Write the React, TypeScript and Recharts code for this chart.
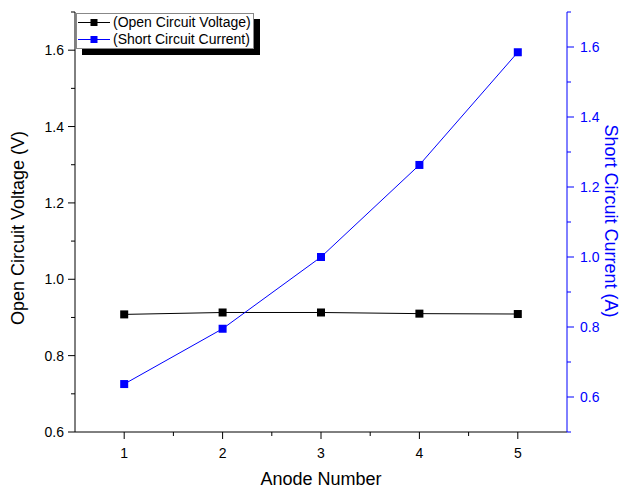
import { LineChart, Line, XAxis, YAxis, Legend, Label } from "recharts";

const anodes = [1, 2, 3, 4, 5];
const voltage = [0.908, 0.913, 0.913, 0.91, 0.909];
const current = [0.637, 0.795, 1.0, 1.263, 1.585];

const xTicks = [1, 1.5, 2, 2.5, 3, 3.5, 4, 4.5, 5];
const voltageTicks = [0.6, 0.7, 0.8, 0.9, 1.0, 1.1, 1.2, 1.3, 1.4, 1.5, 1.6, 1.7];
const currentTicks = [0.5, 0.6, 0.7, 0.8, 0.9, 1.0, 1.1, 1.2, 1.3, 1.4, 1.5, 1.6, 1.7];

const data = anodes.map((a, i) => ({
  anode: a,
  voltage: voltage[i],
  current: current[i],
}));

const FONT = "'Liberation Sans', Arial, sans-serif";
const BLUE = "#0000ff";

const isEvenTenth = (v: number) => Math.round(v * 10) % 2 === 0;

const BottomTick = (props: any) => {
  const { x, y, payload } = props;
  const major = Number.isInteger(payload.value);
  return (
    <g>
      <line x1={x} y1={y} x2={x} y2={y + (major ? 7 : 4)} stroke="#000" />
      {major && (
        <text x={x} y={y + 26} textAnchor="middle" fontSize={14} fontFamily={FONT} fill="#000">
          {payload.value}
        </text>
      )}
    </g>
  );
};

const TopTick = (props: any) => {
  const { x, y, payload } = props;
  const major = Number.isInteger(payload.value);
  return <line x1={x} y1={y} x2={x} y2={y + (major ? 7 : 4)} stroke="#000" />;
};

const LeftTick = (props: any) => {
  const { x, y, payload } = props;
  const major = isEvenTenth(payload.value);
  return (
    <g>
      <line x1={x - (major ? 7 : 4)} y1={y} x2={x} y2={y} stroke="#000" />
      {major && (
        <text x={x - 11} y={y + 5} textAnchor="end" fontSize={14} fontFamily={FONT} fill="#000">
          {payload.value.toFixed(1)}
        </text>
      )}
    </g>
  );
};

const RightTick = (props: any) => {
  const { x, y, payload } = props;
  const major = isEvenTenth(payload.value);
  return (
    <g>
      <line x1={x} y1={y} x2={x + (major ? 7 : 4)} y2={y} stroke={BLUE} />
      {major && (
        <text x={x + 13} y={y + 5} textAnchor="start" fontSize={14} fontFamily={FONT} fill={BLUE}>
          {payload.value.toFixed(1)}
        </text>
      )}
    </g>
  );
};

const squareDot = (color: string) => (props: any) => {
  const { cx, cy, index } = props;
  return <rect key={index} x={cx - 4} y={cy - 4} width={8} height={8} fill={color} />;
};

const LegendBox = (props: any) => {
  const { payload = [] } = props;
  return (
    <div style={{ position: "relative", width: 178, height: 36, fontFamily: FONT }}>
      <div style={{ position: "absolute", left: 6, top: 6, width: 178, height: 36, background: "#000" }} />
      <div
        style={{
          position: "absolute",
          left: 0,
          top: 0,
          width: 176,
          height: 34,
          border: "1px solid #888",
          background: "#fff",
        }}
      >
        {payload.map((entry: any) => (
          <div key={entry.value} style={{ display: "flex", alignItems: "center", height: 17 }}>
            <svg width={36} height={17}>
              <line x1={1} y1={8.5} x2={33} y2={8.5} stroke={entry.color} />
              <rect x={13.5} y={5} width={7} height={7} fill={entry.color} />
            </svg>
            <span style={{ fontSize: 14, lineHeight: "17px", color: "#000", whiteSpace: "nowrap" }}>
              {entry.value}
            </span>
          </div>
        ))}
      </div>
    </div>
  );
};

export default function App() {
  return (
    <div style={{ position: "absolute", left: 0, top: 0, background: "#fff" }}>
      <LineChart width={628} height={490} data={data} margin={{ top: 12, right: 11, bottom: 18, left: 15 }}>
        <XAxis
          xAxisId="bottom"
          type="number"
          dataKey="anode"
          domain={[0.5, 5.5]}
          ticks={xTicks}
          interval={0}
          tickSize={0}
          tickMargin={0}
          tickLine={false}
          tick={<BottomTick />}
          axisLine={{ stroke: "#000" }}
          height={40}
        >
          <Label
            content={() => (
              <text x={321} y={485} textAnchor="middle" fontSize={18} fontFamily={FONT} fill="#000">
                Anode Number
              </text>
            )}
          />
        </XAxis>
        <XAxis
          xAxisId="top"
          orientation="top"
          type="number"
          dataKey="anode"
          domain={[0.5, 5.5]}
          ticks={xTicks}
          interval={0}
          tickSize={0}
          tickMargin={0}
          tickLine={false}
          tick={<TopTick />}
          axisLine={{ stroke: "#000" }}
          height={0}
        />
        <YAxis
          yAxisId="left"
          type="number"
          domain={[0.6, 1.7]}
          ticks={voltageTicks}
          interval={0}
          tickSize={0}
          tickMargin={0}
          tickLine={false}
          tick={<LeftTick />}
          axisLine={{ stroke: "#000" }}
          width={60}
        >
          <Label
            content={() => (
              <text
                x={24}
                y={228}
                textAnchor="middle"
                fontSize={18}
                fontFamily={FONT}
                fill="#000"
                transform="rotate(-90, 24, 228)"
              >
                Open Circuit Voltage (V)
              </text>
            )}
          />
        </YAxis>
        <YAxis
          yAxisId="right"
          orientation="right"
          type="number"
          domain={[0.5, 1.7]}
          ticks={currentTicks}
          interval={0}
          tickSize={0}
          tickMargin={0}
          tickLine={false}
          tick={<RightTick />}
          axisLine={{ stroke: BLUE }}
          width={50}
        >
          <Label
            content={() => (
              <text
                x={605}
                y={221}
                textAnchor="middle"
                fontSize={18}
                fontFamily={FONT}
                fill={BLUE}
                transform="rotate(90, 605, 221)"
              >
                Short Circuit Current (A)
              </text>
            )}
          />
        </YAxis>
        <Legend
          layout="vertical"
          align="center"
          verticalAlign="middle"
          content={<LegendBox />}
          wrapperStyle={{ position: "absolute", left: 76, top: 13, width: 184, height: 42 }}
        />
        <Line
          xAxisId="bottom"
          yAxisId="left"
          type="linear"
          dataKey="voltage"
          name="(Open Circuit Voltage)"
          stroke="#000"
          strokeWidth={1}
          dot={squareDot("#000")}
          activeDot={false}
          isAnimationActive={false}
        />
        <Line
          xAxisId="bottom"
          yAxisId="right"
          type="linear"
          dataKey="current"
          name="(Short Circuit Current)"
          stroke={BLUE}
          strokeWidth={1}
          dot={squareDot(BLUE)}
          activeDot={false}
          isAnimationActive={false}
        />
      </LineChart>
    </div>
  );
}
